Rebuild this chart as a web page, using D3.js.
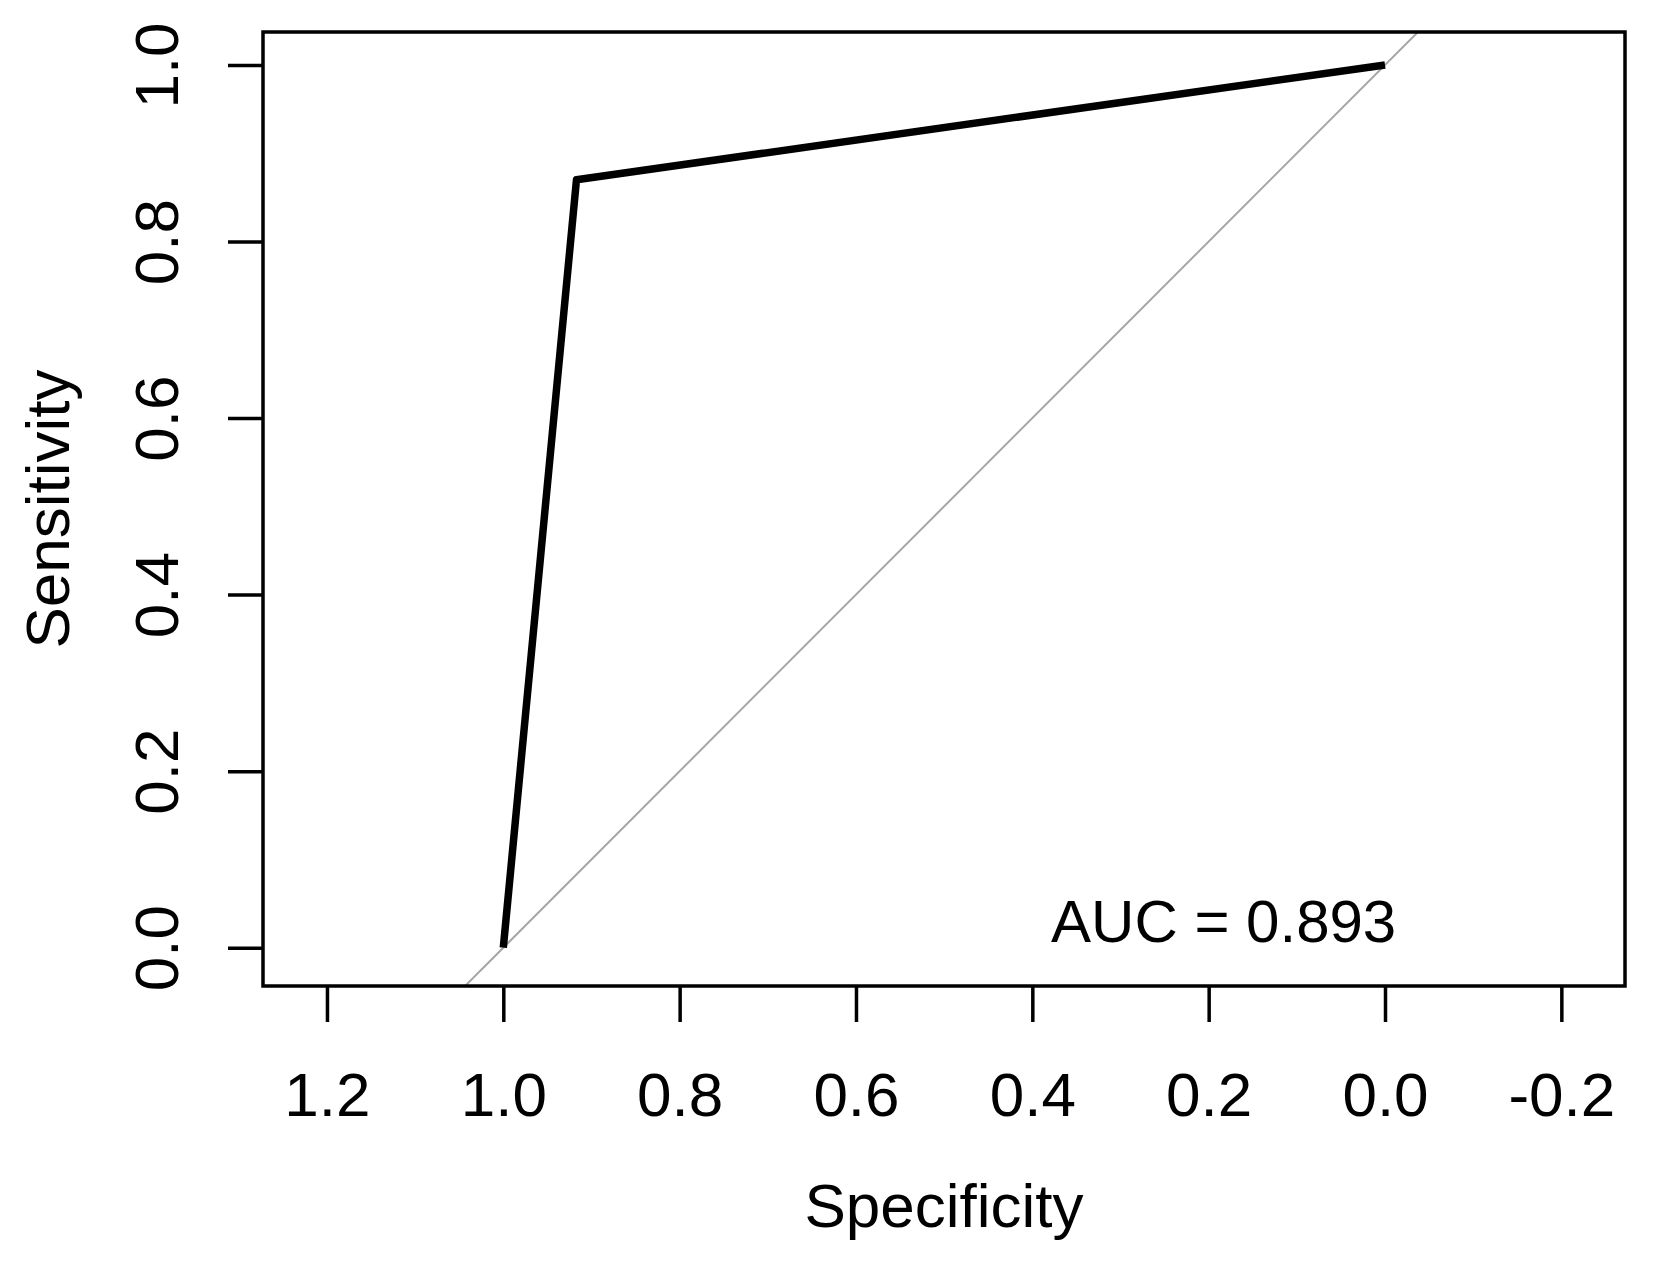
<!DOCTYPE html>
<html>
<head>
<meta charset="utf-8">
<script src="https://cdn.jsdelivr.net/npm/d3@7"></script>
<style>
  html, body { margin: 0; padding: 0; background: #fff; }
  svg { display: block; }
  text { font-family: "Liberation Sans", Arial, sans-serif; fill: #000; }
</style>
</head>
<body>
<svg id="chart" width="1659" height="1266"></svg>
<script>
// ---- data ----
const specificity = [1.0, 0.917, 0.0];
const sensitivity = [0.0, 0.870, 1.0];
const xTicks = [1.2, 1.0, 0.8, 0.6, 0.4, 0.2, 0.0, -0.2];
const yTicks = [0.0, 0.2, 0.4, 0.6, 0.8, 1.0];
const aucLabel = "AUC = 0.893";
const xTitle = "Specificity";
const yTitle = "Sensitivity";

// ---- layout ----
const W = 1659, H = 1266;
const box = { left: 263, right: 1625, top: 32, bottom: 986 };
const fontSize = 62;

const svg = d3.select("#chart");
svg.append("rect").attr("width", W).attr("height", H).attr("fill", "#fff");

const x = d3.scaleLinear().domain([1, 0]).range([503.3, 1385]);
const y = d3.scaleLinear().domain([1, 0]).range([65, 947.7]);

// clip to plot region
svg.append("defs").append("clipPath").attr("id", "plotclip")
  .append("rect")
  .attr("x", box.left).attr("y", box.top)
  .attr("width", box.right - box.left).attr("height", box.bottom - box.top);

const plot = svg.append("g").attr("clip-path", "url(#plotclip)");

// chance diagonal (sensitivity = 1 - specificity)
const diagSpec = [1.4, -0.4];
plot.append("line")
  .attr("x1", x(diagSpec[0])).attr("y1", y(1 - diagSpec[0]))
  .attr("x2", x(diagSpec[1])).attr("y2", y(1 - diagSpec[1]))
  .attr("stroke", "#a6a6a6").attr("stroke-width", 2);

// ROC curve
const pts = specificity.map((s, i) => [s, sensitivity[i]]);
plot.append("path")
  .datum(pts)
  .attr("d", d3.line().x(d => x(d[0])).y(d => y(d[1])))
  .attr("fill", "none").attr("stroke", "#000")
  .attr("stroke-width", 7.5)
  .attr("stroke-linejoin", "round").attr("stroke-linecap", "butt");

// box
svg.append("rect")
  .attr("x", box.left).attr("y", box.top)
  .attr("width", box.right - box.left).attr("height", box.bottom - box.top)
  .attr("fill", "none").attr("stroke", "#000").attr("stroke-width", 3.5);

// x axis
const fmt = d => d.toFixed(1);
const xAxis = svg.append("g")
  .attr("transform", `translate(0,${box.bottom})`)
  .call(d3.axisBottom(x).tickValues(xTicks).tickFormat(fmt).tickSize(36).tickSizeOuter(0));
xAxis.select(".domain").remove();
xAxis.selectAll(".tick line").attr("stroke", "#000").attr("stroke-width", 3.5);
xAxis.selectAll(".tick text")
  .attr("y", 1116 - box.bottom).attr("dy", 0)
  .attr("font-size", fontSize)
  .attr("font-family", "'Liberation Sans', Arial, sans-serif")
  .attr("fill", "#000");

// y axis
const yAxis = svg.append("g")
  .attr("transform", `translate(${box.left},0)`)
  .call(d3.axisLeft(y).tickValues(yTicks).tickFormat(fmt).tickSize(35).tickSizeOuter(0));
yAxis.select(".domain").remove();
yAxis.selectAll(".tick line").attr("stroke", "#000").attr("stroke-width", 3.5);
yAxis.selectAll(".tick text")
  .attr("x", 0).attr("y", 0).attr("dy", 0).attr("dx", 0)
  .attr("text-anchor", "middle")
  .attr("transform", `translate(${178 - box.left},0) rotate(-90)`)
  .attr("font-size", fontSize)
  .attr("font-family", "'Liberation Sans', Arial, sans-serif")
  .attr("fill", "#000");

// axis titles
svg.append("text")
  .attr("x", (box.left + box.right) / 2).attr("y", 1227)
  .attr("text-anchor", "middle").attr("font-size", fontSize)
  .text(xTitle);

svg.append("text")
  .attr("transform", `translate(69,${(box.top + box.bottom) / 2}) rotate(-90)`)
  .attr("text-anchor", "middle").attr("font-size", fontSize)
  .text(yTitle);

// AUC annotation
svg.append("text")
  .attr("x", x(0.183)).attr("y", 941.5)
  .attr("text-anchor", "middle").attr("font-size", 60)
  .text(aucLabel);
</script>
</body>
</html>
